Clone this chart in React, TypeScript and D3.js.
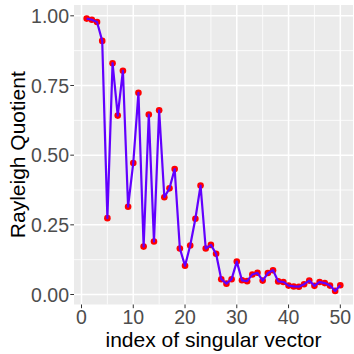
import React from "react";
import * as d3 from "d3";

// Rayleigh quotient for each singular vector index
const indices: number[] = Array.from({ length: 50 }, (_, i) => i + 1);
const quotients: number[] = [
  0.990, 0.986, 0.978, 0.910, 0.274, 0.830, 0.642, 0.803, 0.315, 0.472,
  0.724, 0.172, 0.646, 0.190, 0.661, 0.349, 0.381, 0.450, 0.165, 0.103,
  0.176, 0.272, 0.391, 0.165, 0.178, 0.146, 0.055, 0.039, 0.055, 0.118,
  0.051, 0.048, 0.072, 0.078, 0.050, 0.077, 0.087, 0.047, 0.045, 0.032,
  0.029, 0.028, 0.037, 0.050, 0.031, 0.045, 0.041, 0.032, 0.013, 0.033,
];
const xTicks: number[] = [0, 10, 20, 30, 40, 50];
const xMinor: number[] = [5, 15, 25, 35, 45];
const yTicks: number[] = [0, 0.25, 0.5, 0.75, 1.0];
const yMinor: number[] = [0.125, 0.375, 0.625, 0.875];
const xTitle = "index of singular vector";
const yTitle = "Rayleigh Quotient";

const W = 354;
const H = 354;
const panel = { left: 74, right: 353, top: 5, bottom: 304.5 };

// ggplot-style 5% padding on a continuous domain
function expand([lo, hi]: [number, number]): [number, number] {
  const pad = (hi - lo) * 0.05;
  return [lo - pad, hi + pad];
}

export default function App() {
  const x = d3
    .scaleLinear()
    .domain(expand(d3.extent(indices) as [number, number]))
    .range([panel.left, panel.right]);
  const y = d3
    .scaleLinear()
    .domain(expand(d3.extent(quotients) as [number, number]))
    .range([panel.bottom, panel.top]);

  const pts = indices.map((d, i) => [d, quotients[i]] as [number, number]);
  const line = d3
    .line<[number, number]>()
    .x((d) => x(d[0]))
    .y((d) => y(d[1]));

  const font = "'Liberation Sans', Arial, sans-serif";

  return (
    <svg
      width={W}
      height={H}
      style={{ position: "absolute", left: 0, top: 0, background: "#fff" }}
    >
      <rect
        x={panel.left}
        y={panel.top}
        width={panel.right - panel.left}
        height={panel.bottom - panel.top}
        fill="#EBEBEB"
      />
      {yMinor.map((t) => (
        <line key={"ym" + t} x1={panel.left} x2={panel.right} y1={y(t)} y2={y(t)} stroke="#fff" strokeWidth={0.8} />
      ))}
      {xMinor.map((t) => (
        <line key={"xm" + t} x1={x(t)} x2={x(t)} y1={panel.top} y2={panel.bottom} stroke="#fff" strokeWidth={0.8} />
      ))}
      {yTicks.map((t) => (
        <line key={"yg" + t} x1={panel.left} x2={panel.right} y1={y(t)} y2={y(t)} stroke="#fff" strokeWidth={1.5} />
      ))}
      {xTicks.map((t) => (
        <line key={"xg" + t} x1={x(t)} x2={x(t)} y1={panel.top} y2={panel.bottom} stroke="#fff" strokeWidth={1.5} />
      ))}

      {pts.map((p, i) => (
        <circle key={"p" + i} cx={x(p[0])} cy={y(p[1])} r={3.3} fill="#FF0000" />
      ))}
      <path d={line(pts) ?? ""} fill="none" stroke="#6200FF" strokeWidth={2.2} strokeLinejoin="round" />

      {yTicks.map((t) => (
        <g key={"yt" + t}>
          <line x1={panel.left - 3.7} x2={panel.left} y1={y(t)} y2={y(t)} stroke="#333" strokeWidth={1} />
          <text
            x={panel.left - 5}
            y={y(t)}
            dy="0.36em"
            textAnchor="end"
            fontFamily={font}
            fontSize={19.5}
            fill="#4D4D4D"
          >
            {t.toFixed(2)}
          </text>
        </g>
      ))}
      {xTicks.map((t) => (
        <g key={"xt" + t}>
          <line x1={x(t)} x2={x(t)} y1={panel.bottom} y2={panel.bottom + 3.7} stroke="#333" strokeWidth={1} />
          <text
            x={x(t)}
            y={panel.bottom + 5}
            dy="0.75em"
            textAnchor="middle"
            fontFamily={font}
            fontSize={19.5}
            fill="#4D4D4D"
          >
            {t}
          </text>
        </g>
      ))}

      <text
        x={(panel.left + panel.right) / 2}
        y={347}
        textAnchor="middle"
        fontFamily={font}
        fontSize={21}
        fill="#000"
      >
        {xTitle}
      </text>
      <text
        transform={`translate(${25},${(panel.top + panel.bottom) / 2}) rotate(-90)`}
        textAnchor="middle"
        fontFamily={font}
        fontSize={21}
        fill="#000"
      >
        {yTitle}
      </text>
    </svg>
  );
}
